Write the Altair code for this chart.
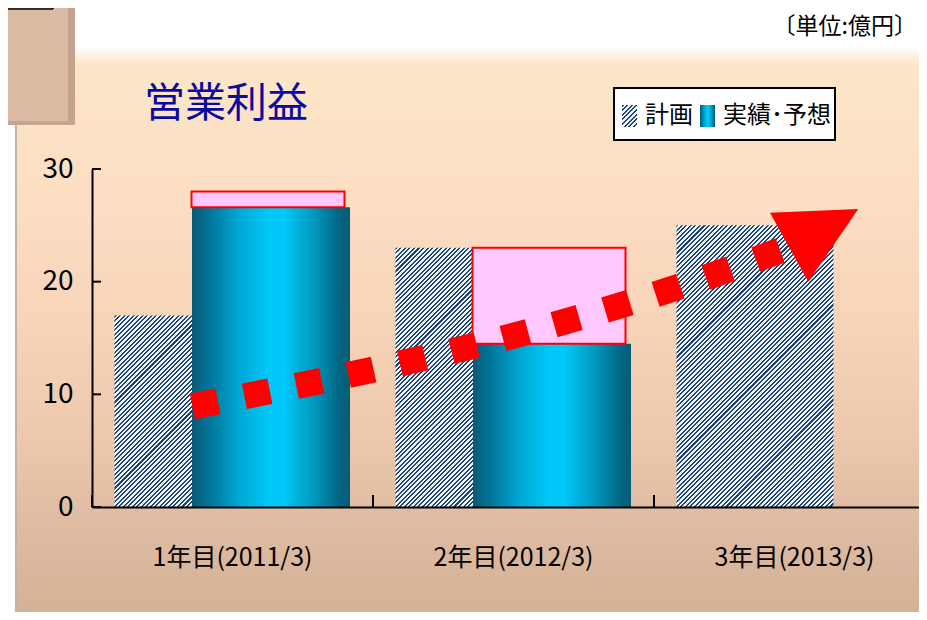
import altair as alt
import pandas as pd

# ---------------- data ----------------
years = ["1年目(2011/3)", "2年目(2012/3)", "3年目(2013/3)"]
plan = [17, 23, 25]                 # 計画
actual = [26.6, 14.5, None]         # 実績・予想
prior_forecast = [28, 23, None]     # 前回予想（ピンク枠の上端）
y_ticks = [0, 10, 20, 30]

# trend arrow (category position 0..3, value)
trend_pos = [0.357, 0.961, 1.513, 2.057, 2.480]
trend_val = [8.94, 11.98, 15.29, 19.29, 23.05]
arrow_pos = [2.604]
arrow_val = [24.75]

legend_labels = ["計画", "実績･予想"]
title_text = "営業利益"
unit_text = "〔単位:億円〕"

# ---------------- style / layout ----------------
W, H = 827, 338
XR = 843
YMAX = 30
PXU = H / YMAX
PLAN_W, PLAN_OFF = 157, -39.5
ACT_W, ACT_OFF = 158, 38.5
PINK_W, PINK_OFF = 153, 35.5

JP = "Noto Sans CJK JP"
NARROW = "Liberation Sans Narrow, Arial Narrow, Noto Sans CJK JP, sans-serif"

df = pd.DataFrame({"year": years, "plan": plan, "actual": actual, "prior": prior_forecast})
one = pd.DataFrame({"k": [0]})


def hatch(w, h, period=4.5, frac=0.45, dark="#1B4677", light="#F4F6F9"):
    r = h / w
    k = (1 + r) / (1 + r * r)
    n = int(round((w + h) / period))
    stops = []
    for i in range(n):
        a = round(i / n, 5)
        b = round((i + frac) / n, 5)
        c = round((i + 1) / n, 5)
        stops += [{"offset": a, "color": dark}, {"offset": b, "color": dark},
                  {"offset": b, "color": light}, {"offset": c, "color": light}]
    return {"gradient": "linear", "x1": 0, "y1": 0, "x2": k, "y2": k * r, "stops": stops}


cyan = {"gradient": "linear", "x1": 0, "y1": 0, "x2": 1, "y2": 0,
        "stops": [{"offset": 0, "color": "#0A5A73"},
                  {"offset": 0.12, "color": "#00789C"},
                  {"offset": 0.3, "color": "#00A8D4"},
                  {"offset": 0.48, "color": "#00C8F8"},
                  {"offset": 0.58, "color": "#00C8F8"},
                  {"offset": 0.78, "color": "#0096BC"},
                  {"offset": 0.92, "color": "#006A88"},
                  {"offset": 1, "color": "#085A72"}]}

panel_grad = {"gradient": "linear", "x1": 0, "y1": 0, "x2": 0, "y2": 1,
              "stops": [{"offset": 0, "color": "#FFFFFF"},
                        {"offset": 0.012, "color": "#FEF3E6"},
                        {"offset": 0.03, "color": "#FDE6C8"},
                        {"offset": 0.25, "color": "#FCDFC3"},
                        {"offset": 0.45, "color": "#F9D5BA"},
                        {"offset": 0.68, "color": "#EDC8AC"},
                        {"offset": 0.82, "color": "#DFBCA2"},
                        {"offset": 1, "color": "#D3B195"}]}

band_scale = alt.Scale(domain=years, range=[0, XR], paddingInner=0, paddingOuter=0)
pos_scale = alt.Scale(domain=[0, 3], range=[0, XR], nice=False, zero=False)
y_scale = alt.Scale(domain=[0, YMAX], nice=False, zero=True)

x_axis = alt.Axis(title=None, domainColor="black", domainWidth=2, ticks=False, tickSize=0,
                  labelFontSize=25, labelFont=NARROW, labelColor="black", labelPadding=38,
                  labelAngle=0, labelLimit=400, grid=False, zindex=1)
y_axis = alt.Axis(title=None, values=y_ticks, domainColor="black", domainWidth=2, ticks=False,
                  tickSize=0, labelFontSize=28, labelFont=NARROW, labelColor="black",
                  labelPadding=19, grid=False, zindex=1)


def rect(x, x2, y, y2, **kw):
    return alt.Chart(one).mark_rect(**kw).encode(
        x=alt.value(x), x2=alt.value(x2), y=alt.value(y), y2=alt.value(y2))


def text(t, x, y, **kw):
    return alt.Chart(one).mark_text(text=t, **kw).encode(x=alt.value(x), y=alt.value(y))


# background decorations
panel = rect(-75, 840, -122, 451, color=panel_grad)
left_edge = rect(-77, -75, -44, 451, color="#BDB2AC")
box = rect(-90, -17, -170, -44, color="#DCBBA4")
box_shadow_r = rect(-24, -17, -170, -44, color="#C3A38D")
box_shadow_b = rect(-90, -17, -48, -44, color="#C6A690")
box_line_h = alt.Chart(one).mark_rule(color="black", strokeWidth=1.5).encode(
    x=alt.value(-90), x2=alt.value(-39), y=alt.value(-160))
box_line_v = alt.Chart(one).mark_rule(color="black", strokeWidth=1.5).encode(
    x=alt.value(-39), y=alt.value(-170), y2=alt.value(-160))

# plan bars (hatched)
plan_layers = []
for i, yr in enumerate(years):
    h = plan[i] * PXU
    plan_layers.append(
        alt.Chart(df).transform_filter(alt.datum.year == yr)
        .mark_bar(width=PLAN_W, xOffset=PLAN_OFF, color=hatch(PLAN_W, h))
        .encode(x=alt.X("year:N", scale=band_scale, axis=x_axis if i == 0 else None),
                y=alt.Y("plan:Q", scale=y_scale, axis=y_axis))
    )

actual_bars = alt.Chart(df).mark_bar(width=ACT_W, xOffset=ACT_OFF, color=cyan).encode(
    x=alt.X("year:N", scale=band_scale, axis=None),
    y=alt.Y("actual:Q", scale=y_scale, axis=y_axis))

pink = alt.Chart(df).mark_bar(width=PINK_W, xOffset=PINK_OFF, fill="#FFC8FF",
                              stroke="#FF0000", strokeWidth=2).encode(
    x=alt.X("year:N", scale=band_scale, axis=None),
    y=alt.Y("prior:Q", scale=y_scale, axis=y_axis),
    y2="actual:Q")

ytick_rules = alt.Chart(pd.DataFrame({"tick": y_ticks})).mark_rule(color="black", strokeWidth=2).encode(
    y=alt.Y("tick:Q", scale=y_scale, axis=y_axis), x=alt.value(0), x2=alt.value(9))
xtick_rules = alt.Chart(df).mark_rule(color="black", strokeWidth=2).encode(
    x=alt.X("year:N", scale=band_scale, axis=None, bandPosition=0),
    y=alt.value(H - 12), y2=alt.value(H))

trend = alt.Chart(pd.DataFrame({"pos": trend_pos, "val": trend_val})).mark_line(
    color="#FF0000", strokeWidth=26, strokeDash=[26, 27], strokeCap="butt",
    interpolate="monotone").encode(
    x=alt.X("pos:Q", scale=pos_scale, axis=None),
    y=alt.Y("val:Q", scale=y_scale, axis=y_axis))

arrow = alt.Chart(pd.DataFrame({"pos": arrow_pos, "val": arrow_val})).mark_point(
    shape="M-1,-1L1,0L-1,1Z", size=6240, filled=True, color="#FF0000", opacity=1,
    angle=331, strokeWidth=0).encode(
    x=alt.X("pos:Q", scale=pos_scale, axis=None),
    y=alt.Y("val:Q", scale=y_scale, axis=y_axis))

# legend
legend_box = rect(522, 743, -81, -29, fill="white", stroke="black", strokeWidth=2)
legend_sw1 = rect(530, 545, -64, -42, color=hatch(15, 22))
legend_sw2 = rect(608, 623, -64, -42, color=cyan)
legend_t1 = text(legend_labels[0], 553, -53, font=JP, fontSize=24, color="black",
                 align="left", baseline="middle")
legend_t2 = text(legend_labels[1], 631, -53, font=JP, fontSize=24, color="black",
                 align="left", baseline="middle")

title = text(title_text, 52, -64, font=JP, fontSize=41, color="#0A0AA0",
             align="left", baseline="middle")
unit = text(unit_text, 825, -142, font=JP, fontSize=23, color="black",
            align="right", baseline="middle")

chart = alt.layer(
    panel, left_edge, box, box_shadow_r, box_shadow_b, box_line_h, box_line_v,
    *plan_layers, actual_bars, pink, ytick_rules, xtick_rules, trend, arrow,
    legend_box, legend_sw1, legend_sw2, legend_t1, legend_t2, title, unit
).resolve_scale(x="independent").properties(
    width=W, height=H,
    padding={"left": 84, "top": 161, "right": 0, "bottom": 105},
    autosize=alt.AutoSizeParams(type="none"),
    background="white",
).configure_view(strokeWidth=0)

chart.save("out.html", embed_options={"renderer": "svg", "actions": False})
